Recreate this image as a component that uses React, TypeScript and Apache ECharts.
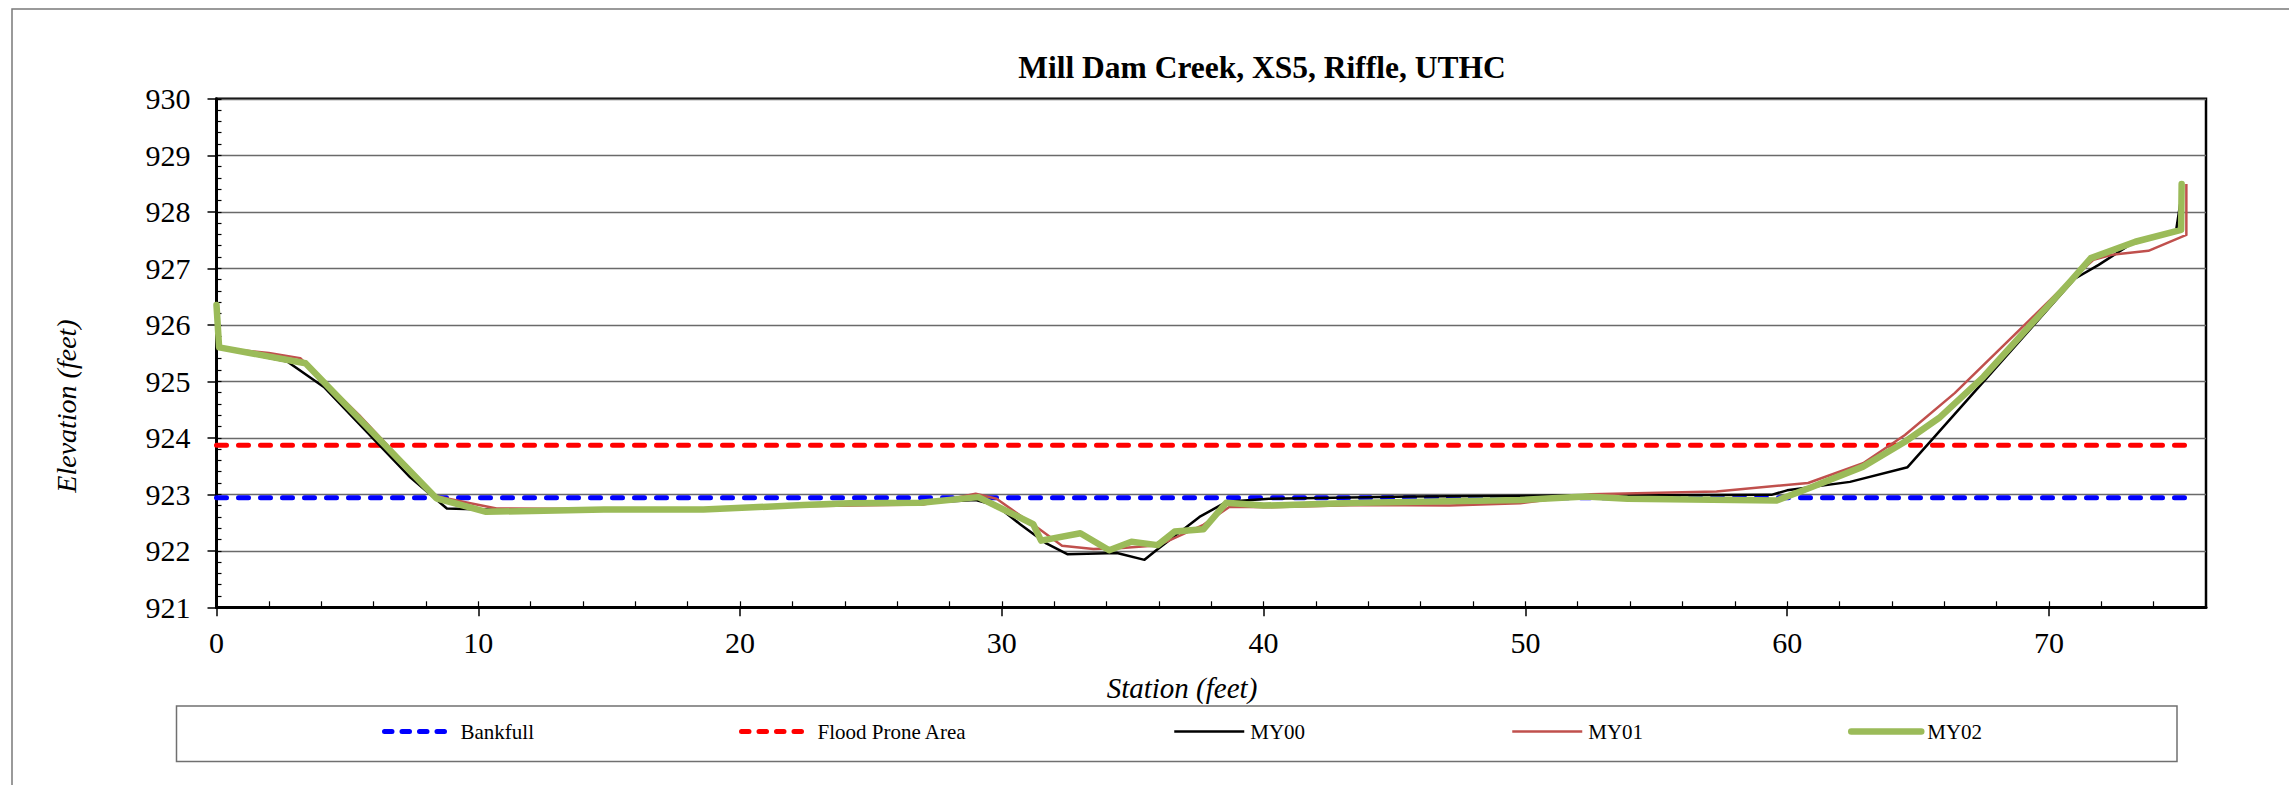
import React, { useEffect, useRef } from "react";
import * as echarts from "echarts";

// Surveyed cross-section: station (ft) and elevation (ft) per monitoring year
const my00Stations = [0, 2.7, 4.1, 7.4, 8.8, 10.2, 14.8, 18.6, 22.4, 27.0, 29.0, 29.8, 30.7, 31.7, 32.5, 34.4, 35.45, 35.9, 37.55, 38.6, 40.2, 45.7, 51.7, 59.4, 60.0, 62.4, 64.6, 71.0, 71.9, 73.3, 74.85, 75.1];
const my00Elevations = [925.6, 925.35, 924.9, 923.3, 922.75, 922.73, 922.73, 922.74, 922.82, 922.85, 922.9, 922.8, 922.47, 922.13, 921.94, 921.96, 921.84, 922.01, 922.6, 922.87, 922.92, 922.96, 922.98, 922.99, 923.07, 923.22, 923.48, 926.82, 927.06, 927.48, 927.65, 928.4];

const my01Stations = [0, 2.0, 3.2, 5.45, 8.35, 9.7, 10.7, 14.8, 18.6, 22.4, 27.0, 29.0, 29.8, 31.3, 32.3, 33.5, 34.6, 36.0, 37.7, 38.7, 40.2, 43.7, 47.1, 49.8, 52.5, 57.3, 60.8, 62.9, 64.5, 66.4, 70.8, 71.7, 72.4, 73.8, 75.25, 75.25];
const my01Elevations = [925.6, 925.5, 925.41, 924.4, 922.97, 922.84, 922.75, 922.74, 922.74, 922.79, 922.82, 923.01, 922.92, 922.43, 922.09, 922.03, 922.05, 922.1, 922.46, 922.78, 922.77, 922.81, 922.8, 922.84, 923.0, 923.05, 923.2, 923.55, 924.05, 924.79, 926.78, 927.15, 927.24, 927.31, 927.59, 928.49];

const my02Stations = [0, 0.1, 3.4, 8.4, 10.3, 14.8, 18.6, 22.4, 24.2, 26.9, 29.1, 29.85, 31.2, 31.5, 33.0, 34.1, 34.95, 35.95, 36.6, 37.7, 38.57, 40.0, 43.7, 49.8, 52.3, 53.9, 59.6, 60.85, 62.9, 64.5, 65.8, 67.5, 69.4, 70.8, 71.6, 73.3, 75.05, 75.07];
const my02Elevations = [926.35, 925.6, 925.32, 922.93, 922.69, 922.73, 922.73, 922.81, 922.84, 922.85, 922.95, 922.78, 922.47, 922.18, 922.31, 922.01, 922.16, 922.1, 922.34, 922.38, 922.85, 922.8, 922.85, 922.9, 922.96, 922.92, 922.89, 923.11, 923.49, 923.93, 924.35, 925.08, 926.05, 926.76, 927.18, 927.47, 927.68, 928.49];

// Reference elevations drawn across the section
const referenceStations = [0, 75.3];
const bankfullElevation = 922.94;
const floodProneElevation = 923.87;

// Axis ticks
const stationTicks = [0, 10, 20, 30, 40, 50, 60, 70];
const elevationTicks = [921, 922, 923, 924, 925, 926, 927, 928, 929, 930];

const SERIF = "Liberation Serif";

const zip = (xs: number[], ys: number[]) => xs.map((x, i) => [x, ys[i]]);

export default function App() {
  const ref = useRef<HTMLDivElement>(null);

  useEffect(() => {
    if (!ref.current) return;
    const chart = echarts.init(ref.current, undefined, { renderer: "svg" });

    const minorStationTicks: number[] = [];
    for (let s = 0; s <= 74; s += 2) minorStationTicks.push(s);
    const minorElevationTicks: number[] = [];
    for (let i = 0; i <= 45; i++) minorElevationTicks.push(+(921 + i * 0.2).toFixed(1));

    const legendDash = [7.5, 10];
    const legendItem = (name: string, left: number, lineStyle: any) => ({
      data: [name],
      left,
      top: 721,
      orient: "horizontal",
      padding: 0,
      itemWidth: 70,
      itemHeight: 14,
      itemGap: 0,
      selectedMode: false,
      itemStyle: { opacity: 0 },
      lineStyle,
      textStyle: { fontFamily: SERIF, fontSize: 21, color: "#000", padding: [0, 0, 0, 1] },
    });

    const dashed = [10, 12];

    chart.setOption({
      animation: false,
      backgroundColor: "#fff",
      title: {
        text: "Mill Dam Creek, XS5, Riffle, UTHC",
        left: 1257,
        textAlign: "center",
        top: 46,
        textStyle: { fontFamily: SERIF, fontSize: 31.5, fontWeight: "bold", color: "#000" },
      },
      grid: {
        left: 216.5,
        top: 98.8,
        right: 83,
        bottom: 177.7,
        show: true,
        borderColor: "#000",
        borderWidth: 2.5,
        backgroundColor: "transparent",
      },
      legend: [
        legendItem("Bankfull", 382, { width: 5, type: legendDash, cap: "round" }),
        legendItem("Flood Prone Area", 739, { width: 5, type: legendDash, cap: "round" }),
        legendItem("MY00", 1173, { width: 2.5 }),
        legendItem("MY01", 1511, { width: 2.5 }),
        legendItem("MY02", 1848, { width: 6.5, cap: "round" }),
      ],
      xAxis: [
        {
          type: "value",
          min: 0,
          max: 76,
          position: "bottom",
          axisLine: { show: true, onZero: false, lineStyle: { color: "#000", width: 3 } },
          axisTick: { show: true, customValues: stationTicks, length: 9, lineStyle: { color: "#000", width: 1.5 } },
          axisLabel: {
            customValues: stationTicks,
            margin: 20,
            fontFamily: SERIF,
            fontSize: 30,
            color: "#000",
          },
          splitLine: { show: false },
        },
        {
          type: "value",
          min: 0,
          max: 76,
          position: "bottom",
          axisLine: { show: false },
          axisTick: { show: true, inside: true, customValues: minorStationTicks, length: 6, lineStyle: { color: "#000", width: 1.2 } },
          axisLabel: { show: false },
          splitLine: { show: false },
        },
      ],
      yAxis: [
        {
          type: "value",
          min: 921,
          max: 930,
          interval: 1,
          position: "left",
          axisLine: { show: true, onZero: false, lineStyle: { color: "#000", width: 3 } },
          axisTick: { show: true, customValues: elevationTicks, length: 9, lineStyle: { color: "#000", width: 1.5 } },
          axisLabel: {
            customValues: elevationTicks,
            margin: 26,
            fontFamily: SERIF,
            fontSize: 30,
            color: "#000",
          },
          splitLine: { show: true, lineStyle: { color: "#6a6a6a", width: 1.3 } },
        },
        {
          type: "value",
          min: 921,
          max: 930,
          position: "left",
          axisLine: { show: false },
          axisTick: { show: true, inside: true, customValues: minorElevationTicks, length: 5, lineStyle: { color: "#000", width: 1.2 } },
          axisLabel: { show: false },
          splitLine: { show: false },
        },
      ],
      graphic: [
        {
          type: "rect",
          silent: true,
          shape: { x: 12, y: 9, width: 2400, height: 900 },
          style: { fill: "none", stroke: "#7a7a7a", lineWidth: 1.5 },
        },
        {
          type: "rect",
          silent: true,
          shape: { x: 176.5, y: 706, width: 2000.5, height: 55.5 },
          style: { fill: "none", stroke: "#707070", lineWidth: 1.5 },
        },
        {
          type: "text",
          silent: true,
          x: 66,
          y: 406,
          rotation: Math.PI / 2,
          style: {
            text: "Elevation (feet)",
            font: `italic 28px '${SERIF}'`,
            fill: "#000",
            textAlign: "center",
            textVerticalAlign: "middle",
          },
        },
        {
          type: "text",
          silent: true,
          x: 1182,
          y: 688,
          style: {
            text: "Station (feet)",
            font: `italic 29px '${SERIF}'`,
            fill: "#000",
            textAlign: "center",
            textVerticalAlign: "middle",
          },
        },
      ],
      series: [
        {
          name: "Bankfull",
          type: "line",
          symbol: "none",
          data: zip(referenceStations, referenceStations.map(() => bankfullElevation)),
          lineStyle: { color: "#0000ff", width: 5, type: dashed, cap: "round" },
          itemStyle: { color: "#0000ff" },
        },
        {
          name: "Flood Prone Area",
          type: "line",
          symbol: "none",
          data: zip(referenceStations, referenceStations.map(() => floodProneElevation)),
          lineStyle: { color: "#ff0000", width: 5, type: dashed, cap: "round" },
          itemStyle: { color: "#ff0000" },
        },
        {
          name: "MY00",
          type: "line",
          symbol: "none",
          data: zip(my00Stations, my00Elevations),
          lineStyle: { color: "#000000", width: 2.5, join: "round" },
          itemStyle: { color: "#000000" },
        },
        {
          name: "MY01",
          type: "line",
          symbol: "none",
          data: zip(my01Stations, my01Elevations),
          lineStyle: { color: "#c0504d", width: 2.5, join: "round" },
          itemStyle: { color: "#c0504d" },
        },
        {
          name: "MY02",
          type: "line",
          symbol: "none",
          data: zip(my02Stations, my02Elevations),
          lineStyle: { color: "#9bbb59", width: 6.5, join: "round", cap: "round" },
          itemStyle: { color: "#9bbb59" },
        },
      ],
    });

    return () => chart.dispose();
  }, []);

  return (
    <div
      ref={ref}
      style={{ position: "fixed", left: 0, top: 0, width: "2289px", height: "785px", background: "#fff" }}
    />
  );
}
